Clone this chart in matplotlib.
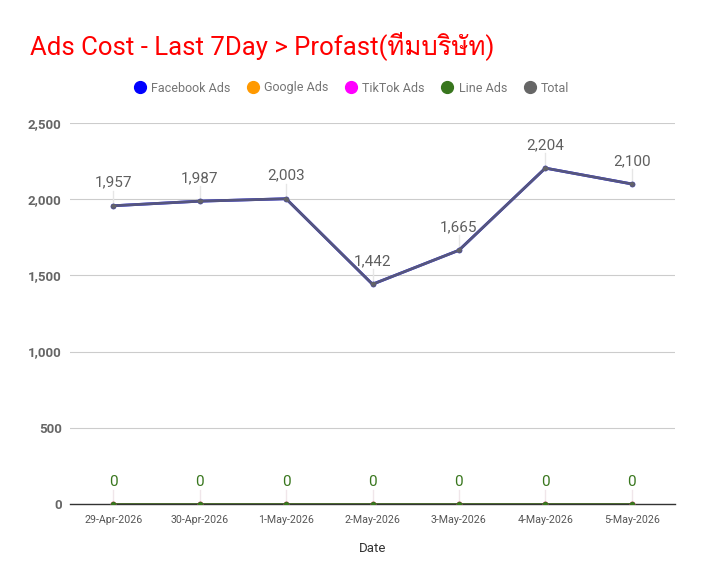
import numpy as np
import matplotlib
matplotlib.use("Agg")
from matplotlib import pyplot as plt
from matplotlib import font_manager
from matplotlib.ft2font import FT2Font

dates = ["29-Apr-2026", "30-Apr-2026", "1-May-2026", "2-May-2026",
         "3-May-2026", "4-May-2026", "5-May-2026"]
facebook = [1957, 1987, 2003, 1442, 1665, 2204, 2100]
google = [0, 0, 0, 0, 0, 0, 0]
tiktok = [0, 0, 0, 0, 0, 0, 0]
line_ads = [0, 0, 0, 0, 0, 0, 0]
total = [1957, 1987, 2003, 1442, 1665, 2204, 2100]
yticks = [0, 500, 1000, 1500, 2000, 2500]


def thai_font():
    # find an installed font that has Thai glyphs
    for f in font_manager.fontManager.ttflist:
        try:
            if 0x0E17 in FT2Font(f.fname).get_charmap():
                return f.name
        except Exception:
            pass
    return None


fams = ["Roboto"]
th = thai_font()
if th:
    fams.append(th)
fams.append("DejaVu Sans")
plt.rcParams["font.family"] = fams

fig = plt.figure(figsize=(7.04, 5.85), dpi=100)
ax = fig.add_axes([70 / 704, 1 - 504 / 585, 605 / 704, 381 / 585])

x = np.arange(len(dates))
ax.plot(x, facebook, color="#0000ff", lw=2, marker="o", ms=3, zorder=3, label="Facebook Ads")
ax.plot(x, google, color="#ff9900", lw=2, marker="o", ms=3, zorder=3, label="Google Ads")
ax.plot(x, tiktok, color="#ff00ff", lw=2, marker="o", ms=3, zorder=3, label="TikTok Ads")
ax.plot(x, line_ads, color="#38761d", lw=2, marker="o", ms=3, zorder=4, label="Line Ads")
ax.plot(x, total, color="#666666", lw=2, marker="o", ms=3, alpha=0.85, zorder=5, label="Total")

# data labels with small leader lines
for i in range(len(x)):
    ax.plot([x[i], x[i]], [total[i], total[i] + 100], color="#e6e6e6", lw=1, zorder=2)
    ax.text(x[i], total[i] + 105, "{:,}".format(total[i]), ha="center", va="bottom",
            fontsize=11, color="#5f5f5f")
    ax.plot([x[i], x[i]], [line_ads[i], line_ads[i] + 95], color="#f0e6ea", lw=1, zorder=2)
    ax.text(x[i], line_ads[i] + 100, "{:,}".format(line_ads[i]), ha="center", va="bottom",
            fontsize=11, color="#38761d")

ax.set_xlim(-0.5, 6.5)
ax.set_ylim(0, 2500)
ax.set_yticks(yticks)
ax.set_yticklabels(["{:,}".format(v) for v in yticks], fontsize=9.5, fontweight="bold", color="#666666")
ax.set_xticks(x)
ax.set_xticklabels(dates, fontsize=7.7, color="#555555")
ax.tick_params(length=0, pad=8)
ax.tick_params(axis="y", pad=6)
ax.grid(axis="y", color="#cccccc", lw=0.8)
ax.set_axisbelow(True)
for s in ["top", "right", "left"]:
    ax.spines[s].set_visible(False)
ax.spines["bottom"].set_color("#333333")
ax.spines["bottom"].set_linewidth(1)
ax.set_xlabel("Date", fontsize=9.5, color="#333333", labelpad=12)

fig.text(30 / 704, 1 - 46 / 585, "Ads Cost - Last 7Day > Profast(ทีมบริษัท)", fontsize=18.5,
         color="#ff0000", va="center", ha="left")

leg = fig.legend(handles=ax.get_lines()[:5], loc="center", bbox_to_anchor=(352 / 704, 1 - 88 / 585),
                 ncol=5, frameon=False, fontsize=9, labelcolor="#757575",
                 handlelength=0.8, handletextpad=0.5, columnspacing=1.4)
for h in leg.legend_handles:
    h.set_linestyle("none")
    h.set_marker("o")
    h.set_markersize(8.5)
    h.set_alpha(1)

plt.savefig("out.png", dpi=100)
